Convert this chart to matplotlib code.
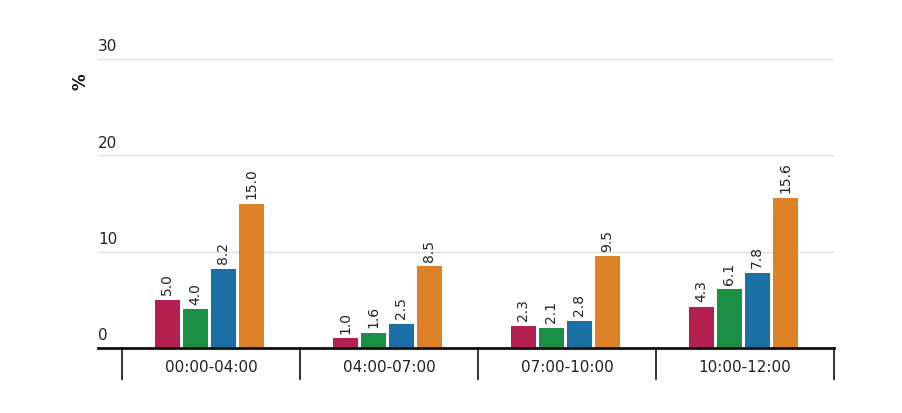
import numpy as np
import matplotlib
matplotlib.use("Agg")
import matplotlib.pyplot as plt
import matplotlib.transforms as mtransforms

# Временные интервалы и значения (%)
categories = ["00:00-04:00", "04:00-07:00", "07:00-10:00", "10:00-12:00"]
series_a = [5.0, 1.0, 2.3, 4.3]
series_b = [4.0, 1.6, 2.1, 6.1]
series_c = [8.2, 2.5, 2.8, 7.8]
series_d = [15.0, 8.5, 9.5, 15.6]
y_ticks = [0, 10, 20, 30]

colors = ["#B31F4E", "#1B8F45", "#1A6FA4", "#DE8227"]
plt.rcParams['font.family'] = ['DejaVu Sans']

fig = plt.figure(figsize=(9.02, 4.14), dpi=100)
ax = fig.add_axes([98 / 902, 65 / 414, 736 / 902, 289 / 414])

x = np.arange(len(categories))
width = 0.14
step = 0.157
all_series = [series_a, series_b, series_c, series_d]

for i, vals in enumerate(all_series):
    pos = x + (i - 1.5) * step - 0.01
    bars = ax.bar(pos, vals, width=width, color=colors[i], zorder=3)
    for xx, v in zip(pos, vals):
        ax.annotate(f"{v:.1f}", (xx, v), xytext=(0, 4), textcoords="offset points",
                    rotation=90, ha="center", va="bottom", fontsize=10, color="#222222")

# Сетка
for t in y_ticks[1:]:
    ax.axhline(t, color="#dedede", linewidth=1, zorder=1)
ax.axhline(0, color="#111111", linewidth=2, zorder=4, clip_on=False)

ax.set_ylim(0, 30)
ax.set_xlim(-0.5 - 24 / 178, 3.5)

# Подписи оси Y над линиями сетки
trans = mtransforms.blended_transform_factory(ax.transAxes, ax.transData)
for t in y_ticks:
    ax.annotate(str(t), (0, t), xycoords=trans, xytext=(0, 4), textcoords="offset points",
                ha="left", va="bottom", fontsize=11, color="#222222")

# Разделители категорий
trans_x = mtransforms.blended_transform_factory(ax.transData, ax.transAxes)
for b in np.arange(len(categories) + 1) - 0.5:
    ax.plot([b, b], [0, -31 / 289], transform=trans_x, color="#222222",
            linewidth=1.3, clip_on=False)

ax.set_xticks(x)
ax.set_xticklabels(categories, fontsize=11, color="#222222")
ax.tick_params(axis="x", length=0, pad=8)
ax.set_yticks([])
for s in ax.spines.values():
    s.set_visible(False)

fig.text(80 / 902, 1 - 82 / 414, "%", rotation=90, ha="center", va="center",
         fontsize=12, fontweight="bold", color="#111111")

fig.savefig("out.png", dpi=100)
